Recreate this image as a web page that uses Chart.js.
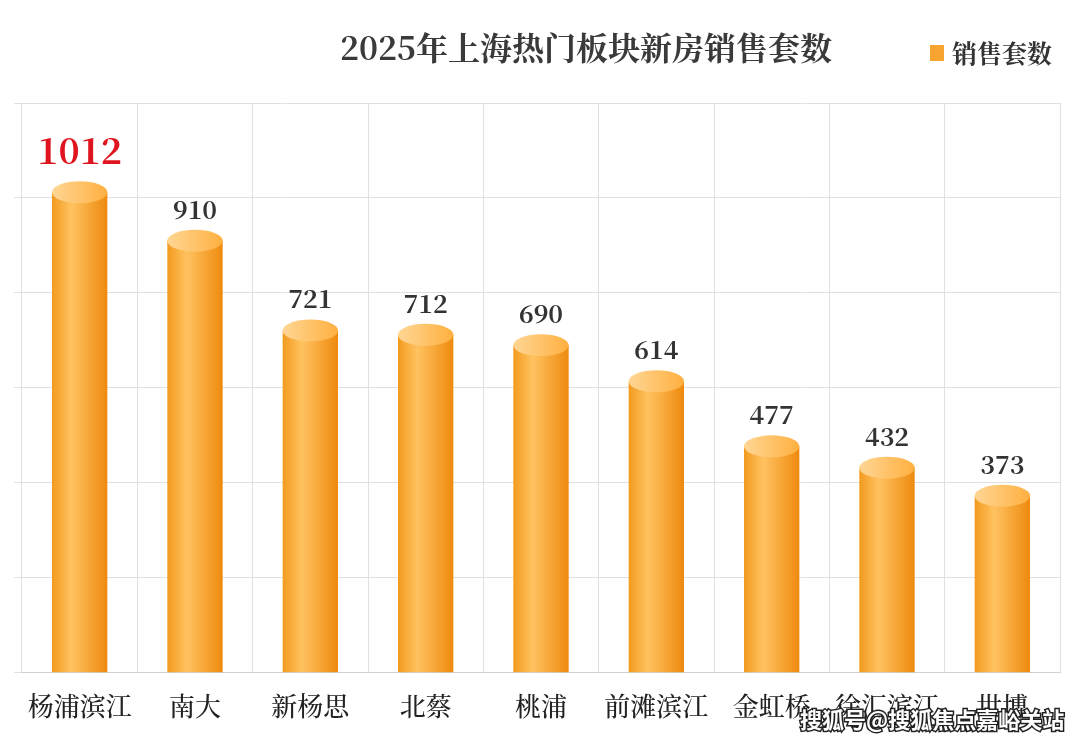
<!DOCTYPE html>
<html><head><meta charset="utf-8">
<script src="https://cdn.jsdelivr.net/npm/chart.js@4/dist/chart.umd.min.js"></script>
<style>body{margin:0;background:#fff}#wrap{width:1080px;height:742px}</style>
</head><body><div id="wrap"><canvas id="c" width="1080" height="742"></canvas></div>
<script>
var categories = ['杨浦滨江','南大','新杨思','北蔡','桃浦','前滩滨江','金虹桥','徐汇滨江','世博'];
var sales = [1012,910,721,712,690,614,477,432,373];
var yTicks = [0,200,400,600,800,1000,1200];
var serif = '"Noto Serif CJK SC","Noto Sans CJK SC",serif';

// extra drawing: cylinder tops, value labels, title, legend, watermark
var decor = {
  id: 'decor',
  afterDatasetsDraw: function(chart){
    var ctx = chart.ctx, meta = chart.getDatasetMeta(0);
    ctx.save();
    meta.data.forEach(function(bar, i){
      var w = bar.width/2, y = bar.y;
      var g = ctx.createLinearGradient(bar.x-w,0,bar.x+w,0);
      g.addColorStop(0,'#ffd694'); g.addColorStop(1,'#ffb040');
      ctx.fillStyle = g;
      ctx.beginPath(); ctx.ellipse(bar.x, y, w, 11, 0, 0, Math.PI*2); ctx.fill();
      ctx.textAlign = 'center';
      if(i===0){
        ctx.fillStyle = '#e0141e'; ctx.font = 'bold 36px ' + serif;
        ctx.fillText(sales[i], bar.x, y-28);
      } else {
        ctx.fillStyle = '#333'; ctx.font = 'bold 25px ' + serif;
        ctx.fillText(sales[i], bar.x, y-22);
      }
    });
    ctx.fillStyle = '#3a3a3a'; ctx.font = 'bold 32px ' + serif; ctx.textAlign = 'center';
    ctx.fillText('2025年上海热门板块新房销售套数', 586, 60);
    ctx.fillStyle = '#f7a530'; ctx.fillRect(930, 45, 14, 16);
    ctx.fillStyle = '#333'; ctx.font = 'bold 25px ' + serif; ctx.textAlign = 'left';
    ctx.fillText('销售套数', 952, 63);
    ctx.font = 'bold 22px "Noto Sans CJK SC",sans-serif'; ctx.fillStyle = '#fff';
    ctx.strokeStyle = '#222'; ctx.lineWidth = 3;
    ctx.strokeText('搜狐号@搜狐焦点嘉峪关站', 800, 728);
    ctx.fillText('搜狐号@搜狐焦点嘉峪关站', 800, 728);
    ctx.restore();
  }
};

new Chart(document.getElementById('c'), {
  type: 'bar',
  data: {
    labels: categories,
    datasets: [{
      label: '销售套数',
      data: sales,
      backgroundColor: function(c){
        var xs = c.chart.scales.x;
        if(!xs || !isFinite(xs.width) || xs.width <= 0) return '#f7a530';
        var cx = xs.getPixelForValue(c.dataIndex);
        var w = xs.width / categories.length * 0.48 / 2;
        if(!isFinite(cx)) return '#f7a530';
        var g = c.chart.ctx.createLinearGradient(cx-w,0,cx+w,0);
        g.addColorStop(0,'#f39a1e'); g.addColorStop(0.35,'#ffc260'); g.addColorStop(1,'#ee8a0e');
        return g;
      },
      barPercentage: 0.48,
      categoryPercentage: 1
    }]
  },
  options: {
    responsive: false,
    animation: false,
    layout: { padding: { left: 14, right: 20, top: 103, bottom: 2 } },
    plugins: { legend: { display: false }, title: { display: false }, tooltip: { enabled: false } },
    scales: {
      x: {
        grid: { display: true, offset: true, color: '#e0e0e0', tickLength: 0 },
        border: { color: '#d0d0d0' },
        ticks: { color: '#222', font: { size: 26, family: serif, weight: '500' }, padding: 18, maxRotation: 0 }
      },
      y: {
        min: yTicks[0], max: yTicks[yTicks.length-1],
        afterBuildTicks: function(s){ s.ticks = yTicks.map(function(v){ return {value: v}; }); },
        grid: { color: '#e0e0e0' },
        border: { display: false },
        ticks: { display: false }
      }
    }
  },
  plugins: [decor]
});
</script></body></html>
